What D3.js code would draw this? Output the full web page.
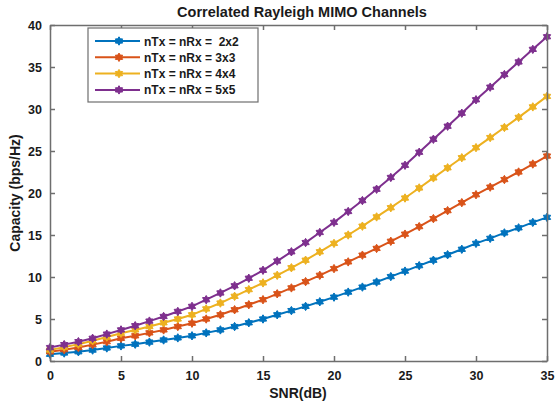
<!DOCTYPE html>
<html>
<head>
<meta charset="utf-8">
<script src="https://cdn.jsdelivr.net/npm/d3@7"></script>
<style>
  body { margin: 0; background: #fff; }
  text { font-family: Arial, "Liberation Sans", sans-serif; font-weight: bold; fill: #1a1a1a; }
</style>
</head>
<body>
<svg id="chart" width="555" height="406"></svg>
<script>
// SNR values (dB)
var snr = d3.range(0, 36);

// capacity, one value per SNR step
var cap2x2 = [0.8,0.95,1.1,1.3,1.55,1.8,2.0,2.25,2.5,2.75,3.0,3.35,3.7,4.1,4.55,5.0,5.5,6.0,6.5,7.05,
  7.6,8.2,8.8,9.4,10.05,10.7,11.35,12.0,12.65,13.3,14.0,14.6,15.25,15.85,16.5,17.1];
var cap3x3 = [1.1,1.35,1.6,1.95,2.3,2.7,3.0,3.35,3.7,4.1,4.5,5.0,5.5,6.1,6.7,7.3,8.0,8.7,9.45,10.2,
  11.0,11.8,12.6,13.4,14.25,15.1,16.0,16.95,17.9,18.85,19.8,20.7,21.6,22.5,23.45,24.4];
var cap4x4 = [1.3,1.65,2.0,2.4,2.85,3.3,3.7,4.1,4.55,5.0,5.5,6.2,6.9,7.7,8.5,9.3,10.2,11.1,12.0,13.0,
  14.0,15.0,16.05,17.15,18.25,19.4,20.6,21.8,23.0,24.2,25.4,26.6,27.8,29.0,30.25,31.5];
var cap5x5 = [1.6,1.95,2.3,2.7,3.2,3.7,4.2,4.75,5.3,5.9,6.5,7.3,8.1,8.95,9.85,10.8,11.9,13.0,14.1,15.3,
  16.5,17.8,19.1,20.45,21.85,23.3,24.85,26.4,27.95,29.5,31.1,32.6,34.1,35.6,37.1,38.6];

var seriesNames = ["nTx = nRx =  2x2", "nTx = nRx = 3x3", "nTx = nRx = 4x4", "nTx = nRx = 5x5"];
var seriesValues = [cap2x2, cap3x3, cap4x4, cap5x5];
var colors = ["#0072BD", "#D95319", "#EDB120", "#7E2F8E"];

var xTicks = [0, 5, 10, 15, 20, 25, 30, 35];
var yTicks = [0, 5, 10, 15, 20, 25, 30, 35, 40];

var plotLeft = 50, plotRight = 547, plotTop = 25, plotBottom = 361;
var svg = d3.select("#chart");

var x = d3.scaleLinear().domain([0, 35]).range([plotLeft, plotRight]);
var y = d3.scaleLinear().domain([0, 40]).range([plotBottom, plotTop]);

// hexagram marker like MATLAB 'h'
function hexagram(r){
	var p = d3.path();
	for (var i = 0; i < 12; i++){
		var a = -Math.PI / 2 + i * Math.PI / 6;
		var rr = (i % 2 == 0) ? r : r * 0.6;
		if (i == 0) p.moveTo(rr * Math.cos(a), rr * Math.sin(a));
		else p.lineTo(rr * Math.cos(a), rr * Math.sin(a));
	}
	p.closePath();
	return p.toString();
}
var marker = hexagram(4.2);

// series
var line = d3.line().x(function(d){ return x(d[0]); }).y(function(d){ return y(d[1]); });
seriesValues.forEach(function(vals, i){
	var pts = snr.map(function(s, j){ return [s, vals[j]]; });
	var g = svg.append("g");
	g.append("path").attr("d", line(pts)).attr("fill", "none")
		.attr("stroke", colors[i]).attr("stroke-width", 2);
	g.selectAll("path.m").data(pts).enter().append("path")
		.attr("class", "m")
		.attr("d", marker)
		.attr("transform", function(d){ return "translate(" + x(d[0]) + "," + y(d[1]) + ")"; })
		.attr("fill", colors[i]).attr("stroke", colors[i]).attr("stroke-width", 1);
});

// axes box with inward ticks on all four sides
var axisColor = "#6e6e6e";
svg.append("g").attr("transform", "translate(0," + plotBottom + ")")
	.call(d3.axisBottom(x).tickValues(xTicks).tickSizeInner(-5).tickSizeOuter(0).tickPadding(10))
	.call(function(g){ g.selectAll("text").attr("font-size", 12.5); });
svg.append("g").attr("transform", "translate(0," + plotTop + ")")
	.call(d3.axisTop(x).tickValues(xTicks).tickSizeInner(-5).tickSizeOuter(0).tickFormat(""));
svg.append("g").attr("transform", "translate(" + plotLeft + ",0)")
	.call(d3.axisLeft(y).tickValues(yTicks).tickSizeInner(-5).tickSizeOuter(0).tickPadding(8))
	.call(function(g){ g.selectAll("text").attr("font-size", 12.5); });
svg.append("g").attr("transform", "translate(" + plotRight + ",0)")
	.call(d3.axisRight(y).tickValues(yTicks).tickSizeInner(-5).tickSizeOuter(0).tickFormat(""));
svg.selectAll(".domain, .tick line").attr("stroke", axisColor).attr("stroke-width", 1.5);
svg.selectAll(".tick text").attr("fill", "#1a1a1a").attr("font-family", "Arial, 'Liberation Sans', sans-serif").attr("font-weight", "bold");

// title and labels
svg.append("text").attr("x", 302).attr("y", 17).attr("text-anchor", "middle")
	.attr("font-size", 14.5).text("Correlated Rayleigh MIMO Channels");
svg.append("text").attr("x", 298).attr("y", 398).attr("text-anchor", "middle")
	.attr("font-size", 14).text("SNR(dB)");
svg.append("text").attr("transform", "translate(20," + ((plotTop + plotBottom) / 2) + ") rotate(-90)")
	.attr("text-anchor", "middle").attr("font-size", 14).text("Capacity (bps/Hz)");

// legend
var lg = svg.append("g");
lg.append("rect").attr("x", 88).attr("y", 28).attr("width", 170).attr("height", 74)
	.attr("fill", "#fff").attr("stroke", axisColor).attr("stroke-width", 1.2);
seriesNames.forEach(function(name, i){
	var ly = 41 + i * 16.3;
	lg.append("line").attr("x1", 95).attr("x2", 140).attr("y1", ly).attr("y2", ly)
		.attr("stroke", colors[i]).attr("stroke-width", 2);
	lg.append("path").attr("d", marker).attr("transform", "translate(119," + ly + ")")
		.attr("fill", colors[i]).attr("stroke", colors[i]);
	lg.append("text").attr("x", 144).attr("y", ly + 4.5).attr("font-size", 12)
		.attr("xml:space", "preserve").style("white-space", "pre").text(name);
});
</script>
</body>
</html>
